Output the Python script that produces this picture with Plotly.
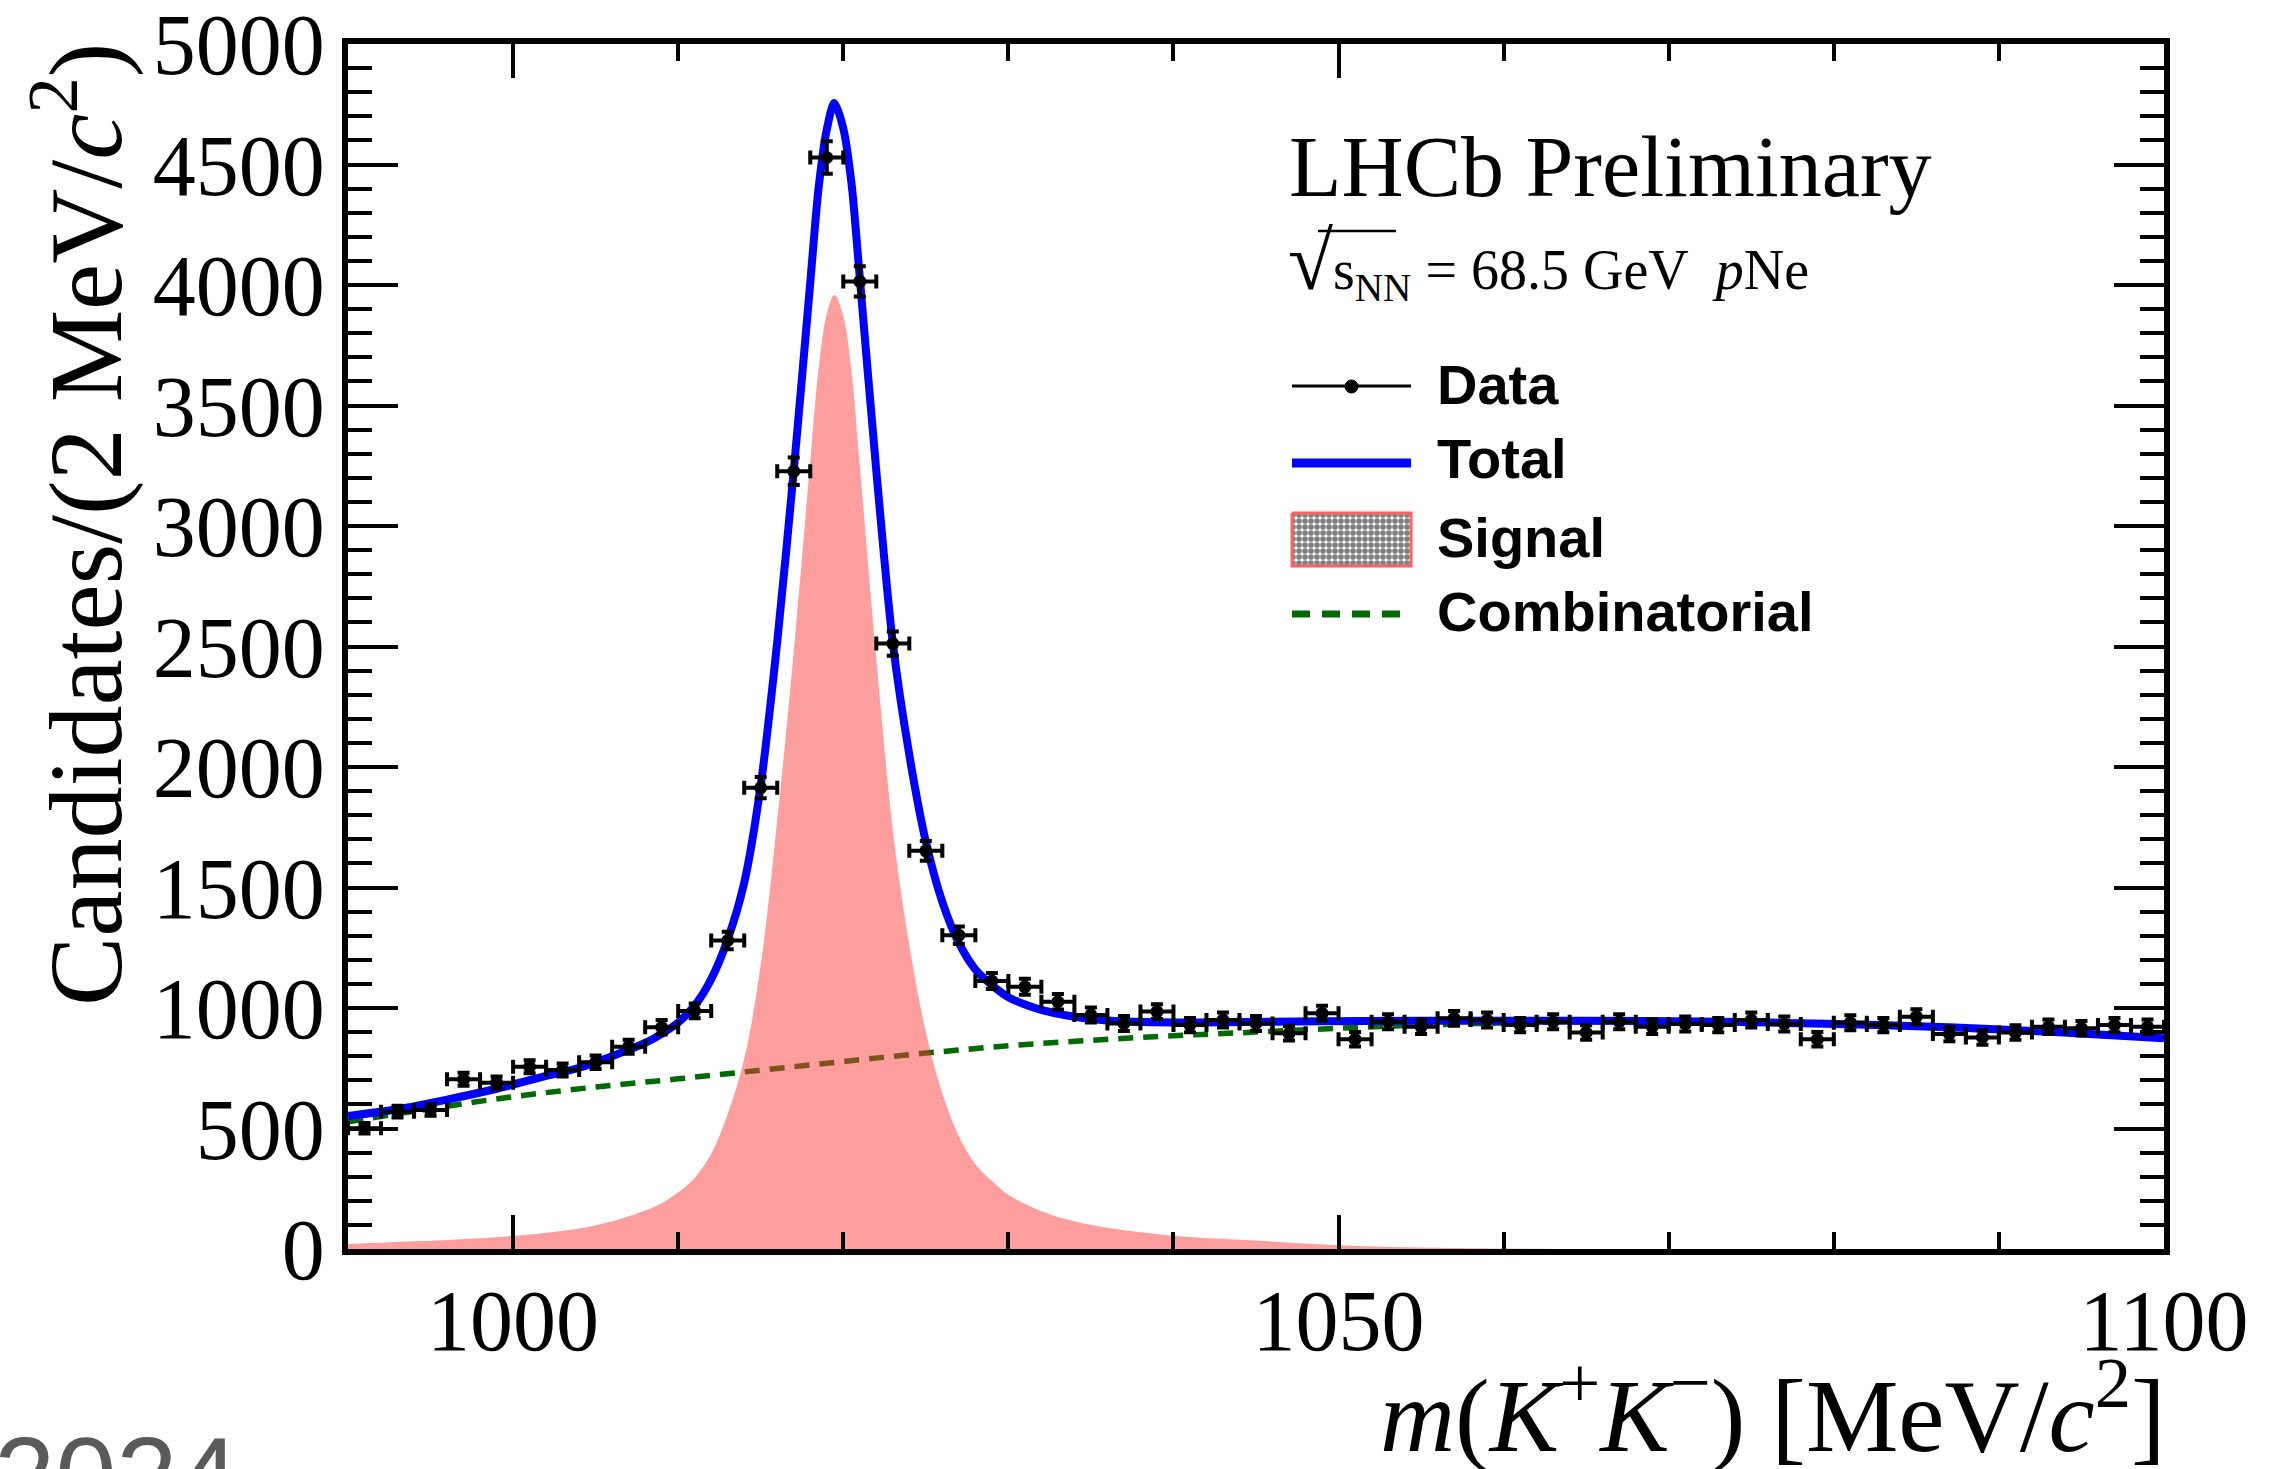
import plotly.graph_objects as go

# ---------------- data ----------------
bin_centers = [991, 993, 995, 997, 999, 1001, 1003, 1005, 1007, 1009, 1011,
               1013, 1015, 1017, 1019, 1021, 1023, 1025, 1027,
               1029, 1031, 1033, 1035, 1037, 1039, 1041, 1043, 1045, 1047, 1049, 1051,
               1053, 1055, 1057, 1059, 1061, 1063, 1065, 1067, 1069, 1071, 1073, 1075, 1077,
               1079, 1081, 1083, 1085, 1087, 1089, 1091, 1093, 1095, 1097, 1099]
counts = [501, 570, 577, 704, 690, 756, 743, 775, 839, 920, 988,
          1280, 1914, 3227, 4529, 4015, 2512, 1652, 1302,
          1112, 1088, 1026, 971, 936, 985, 929, 950, 936, 895, 978, 870,
          943, 922, 957, 950, 929, 943, 898, 943, 922, 934, 929, 950, 934,
          870, 939, 929, 964, 892, 878, 898, 922, 916, 929, 922]
count_err = [22, 24, 24, 27, 26, 27, 27, 28, 29, 30, 31,
             36, 44, 57, 67, 63, 50, 41, 36,
             33, 33, 32, 31, 31, 31, 30, 31, 31, 30, 31, 30,
             31, 30, 31, 31, 30, 31, 30, 31, 30, 31, 30, 31, 31,
             30, 31, 30, 31, 30, 30, 30, 30, 30, 30, 30]
bin_half_width = 1

total_mass = [990, 993, 996, 999, 1002, 1004, 1006, 1008, 1009, 1010,
              1011, 1012, 1013, 1014, 1015, 1016, 1017, 1018, 1018.5, 1019,
              1019.46, 1020, 1020.5, 1021, 1022, 1023, 1024, 1025, 1026, 1027,
              1028, 1029, 1030, 1032, 1034, 1036, 1040, 1046, 1052, 1058,
              1065, 1072, 1077, 1082, 1087, 1092, 1096, 1100]
total_vals = [552, 580, 620, 665, 718, 752, 800, 855, 893, 940,
              1010, 1120, 1285, 1520, 1925, 2520, 3230, 4010, 4400, 4645,
              4755, 4650, 4420, 4030, 3230, 2515, 2050, 1690, 1440, 1270,
              1160, 1095, 1045, 992, 964, 948, 940, 943, 946, 947,
              947, 944, 938, 930, 920, 905, 890, 874]

sig_mass = [990, 994, 998, 1001, 1004, 1006, 1008, 1009, 1010, 1011,
            1012, 1013, 1014, 1015, 1016, 1017, 1018, 1018.5, 1019, 1019.46,
            1020, 1020.5, 1021, 1022, 1023, 1024, 1025, 1026, 1027, 1028,
            1029, 1030, 1032, 1034, 1036, 1040, 1045, 1050, 1055, 1060,
            1070, 1100]
sig_vals = [21, 32, 45, 60, 85, 115, 160, 190, 235, 295,
            395, 560, 790, 1180, 1780, 2480, 3270, 3650, 3880, 3958,
            3870, 3640, 3250, 2450, 1740, 1260, 900, 645, 468, 352,
            282, 225, 157, 115, 88, 55, 35, 16, 6, 2,
            0, 0]

comb_mass = [990, 995, 1000, 1005, 1010, 1015, 1020, 1025, 1030, 1035, 1040, 1045,
             1050, 1055, 1060, 1065, 1070, 1075, 1080, 1085, 1090, 1095, 1100]
comb_vals = [528, 582, 632, 672, 706, 742, 778, 813, 843, 866, 885, 900,
             916, 929, 938, 943, 944, 941, 934, 922, 907, 891, 872]

x_ticks = [1000, 1050, 1100]
y_ticks = [0, 500, 1000, 1500, 2000, 2500, 3000, 3500, 4000, 4500, 5000]
x_range = [990, 1100]
y_range = [0, 5000]

legend_labels = ["Data", "Total", "Signal", "Combinatorial"]

# ---------------- layout helpers (page pixels) ----------------
W, H = 2280, 1469
L, R, T, B = 348, 2164, 44, 1249


def px(x):
    return (x - L) / (R - L)


def py(y):
    return (B - y) / (B - T)


SERIF = "Liberation Serif"
SANS = "Liberation Sans"
BLUE = "#0000ff"
GREEN = "#006a00"
RED = "#ff3c3c"

fig = go.Figure()

# Combinatorial background
fig.add_trace(go.Scatter(
    x=comb_mass, y=comb_vals, mode="lines",
    line=dict(color=GREEN, width=5.5, dash="15px,10px", shape="spline"),
    showlegend=False, hoverinfo="skip"))

# Signal (hatched)
fig.add_trace(go.Scatter(
    x=sig_mass, y=sig_vals, mode="lines", fill="tozeroy",
    fillcolor="rgba(0,0,0,0)",
    fillpattern=dict(shape=".", fgcolor=RED, bgcolor="rgba(255,255,255,0)",
                     size=4, solidity=0.9),
    line=dict(width=0, shape="spline", color="rgba(0,0,0,0)"),
    showlegend=False, hoverinfo="skip"))

# Total fit
fig.add_trace(go.Scatter(
    x=total_mass, y=total_vals, mode="lines",
    line=dict(color=BLUE, width=8, shape="spline", smoothing=0.8),
    showlegend=False, hoverinfo="skip"))

# Data
fig.add_trace(go.Scatter(
    x=bin_centers, y=counts, mode="markers",
    marker=dict(color="black", size=13),
    error_y=dict(type="data", array=count_err, color="black", thickness=4, width=6),
    error_x=dict(type="constant", value=bin_half_width, color="black", thickness=4, width=7),
    showlegend=False, hoverinfo="skip"))

# Legend swatch for Signal (pixel-coordinate overlay axes)
sw_x0, sw_x1, sw_y0, sw_y1 = 1292, 1411, 513, 566
fig.add_trace(go.Scatter(
    x=[sw_x0, sw_x1, sw_x1, sw_x0, sw_x0], y=[sw_y0, sw_y0, sw_y1, sw_y1, sw_y0],
    xaxis="x2", yaxis="y2", mode="lines", fill="toself",
    fillcolor="rgba(0,0,0,0)",
    fillpattern=dict(shape=".", fgcolor="black", bgcolor="white", size=6, solidity=0.7),
    line=dict(color="#ff6060", width=3),
    showlegend=False, hoverinfo="skip"))

shapes = []
# Data legend glyph
shapes.append(dict(type="line", xref="x2", yref="y2", x0=1292, x1=1411, y0=386, y1=386,
                   line=dict(color="black", width=3)))
shapes.append(dict(type="circle", xref="x2", yref="y2", x0=1345, x1=1358, y0=380, y1=393,
                   fillcolor="black", line=dict(color="black", width=1)))
# Total legend glyph
shapes.append(dict(type="line", xref="x2", yref="y2", x0=1292, x1=1411, y0=463, y1=463,
                   line=dict(color=BLUE, width=9)))
# Combinatorial legend glyph
shapes.append(dict(type="line", xref="x2", yref="y2", x0=1292, x1=1411, y0=614, y1=614,
                   line=dict(color=GREEN, width=7, dash="18px,12px")))
# sqrt overline
shapes.append(dict(type="line", xref="x2", yref="y2", x0=1318, x1=1396, y0=231, y1=231,
                   line=dict(color="black", width=2.5)))

annotations = []
annotations.append(dict(text="LHCb Preliminary", xref="paper", yref="paper",
                        x=px(1287), y=py(167), xanchor="left", yanchor="middle",
                        showarrow=False, font=dict(family=SERIF, size=86, color="black")))
annotations.append(dict(text="<span style='font-size:82px'>√</span><span>s</span><sub>NN</sub> = 68.5 GeV  <i>p</i>Ne",
                        xref="paper", yref="paper",
                        x=px(1286), y=py(262), xanchor="left", yanchor="middle",
                        showarrow=False, font=dict(family=SERIF, size=56, color="black")))
for lab, yc in zip(legend_labels, [384, 458, 537, 611]):
    annotations.append(dict(text="<b>%s</b>" % lab, xref="paper", yref="paper",
                            x=px(1435), y=py(yc), xanchor="left", yanchor="middle",
                            showarrow=False, font=dict(family=SANS, size=56, color="black")))
# axis titles
annotations.append(dict(text="Candidates/(2 MeV/<i>c</i><sup>2</sup>)", xref="paper", yref="paper",
                        x=px(78), y=py(40), xanchor="center", yanchor="top", textangle=-90,
                        showarrow=False, font=dict(family=SERIF, size=104, color="black")))
annotations.append(dict(text="<i>m</i>(<i>K</i><sup>+</sup><i>K</i><sup>−</sup>) [MeV/<i>c</i><sup>2</sup>]",
                        xref="paper", yref="paper",
                        x=px(2168), y=py(1408), xanchor="right", yanchor="middle",
                        showarrow=False, font=dict(family=SERIF, size=104, color="black")))
# partially visible year stamp at the bottom-left corner
annotations.append(dict(text="2024", xref="paper", yref="paper",
                        x=px(-8), y=py(1412), xanchor="left", yanchor="top",
                        showarrow=False, font=dict(family=SANS, size=110, color="#5a5a5a")))

axis_common = dict(showline=True, linewidth=6, linecolor="black", mirror="allticks",
                   ticks="inside", tickwidth=4, tickcolor="black", showgrid=False,
                   zeroline=False, ticklabeloverflow="allow", automargin=False)

fig.update_layout(
    width=W, height=H,
    margin=dict(l=L, r=W - R, t=T, b=H - B, pad=0, autoexpand=False),
    paper_bgcolor="white", plot_bgcolor="white",
    showlegend=False,
    xaxis=dict(range=x_range, tickvals=x_ticks, ticklen=34,
               minor=dict(ticks="inside", ticklen=17, tickwidth=4, dtick=10, tick0=990,
                          tickcolor="black"),
               tickfont=dict(family=SERIF, size=86, color="black"),
               ticklabelstandoff=-8, **axis_common),
    yaxis=dict(range=y_range, tickvals=y_ticks, ticklen=50,
               minor=dict(ticks="inside", ticklen=24, tickwidth=4, dtick=100,
                          tickcolor="black"),
               tickfont=dict(family=SERIF, size=86, color="black"),
               ticklabelstandoff=0, **axis_common),
    xaxis2=dict(overlaying="x", range=[L, R], visible=False, showgrid=False, zeroline=False),
    yaxis2=dict(overlaying="y", range=[B, T], visible=False, showgrid=False, zeroline=False),
    shapes=shapes,
    annotations=annotations,
)

fig.write_html("out.html")
